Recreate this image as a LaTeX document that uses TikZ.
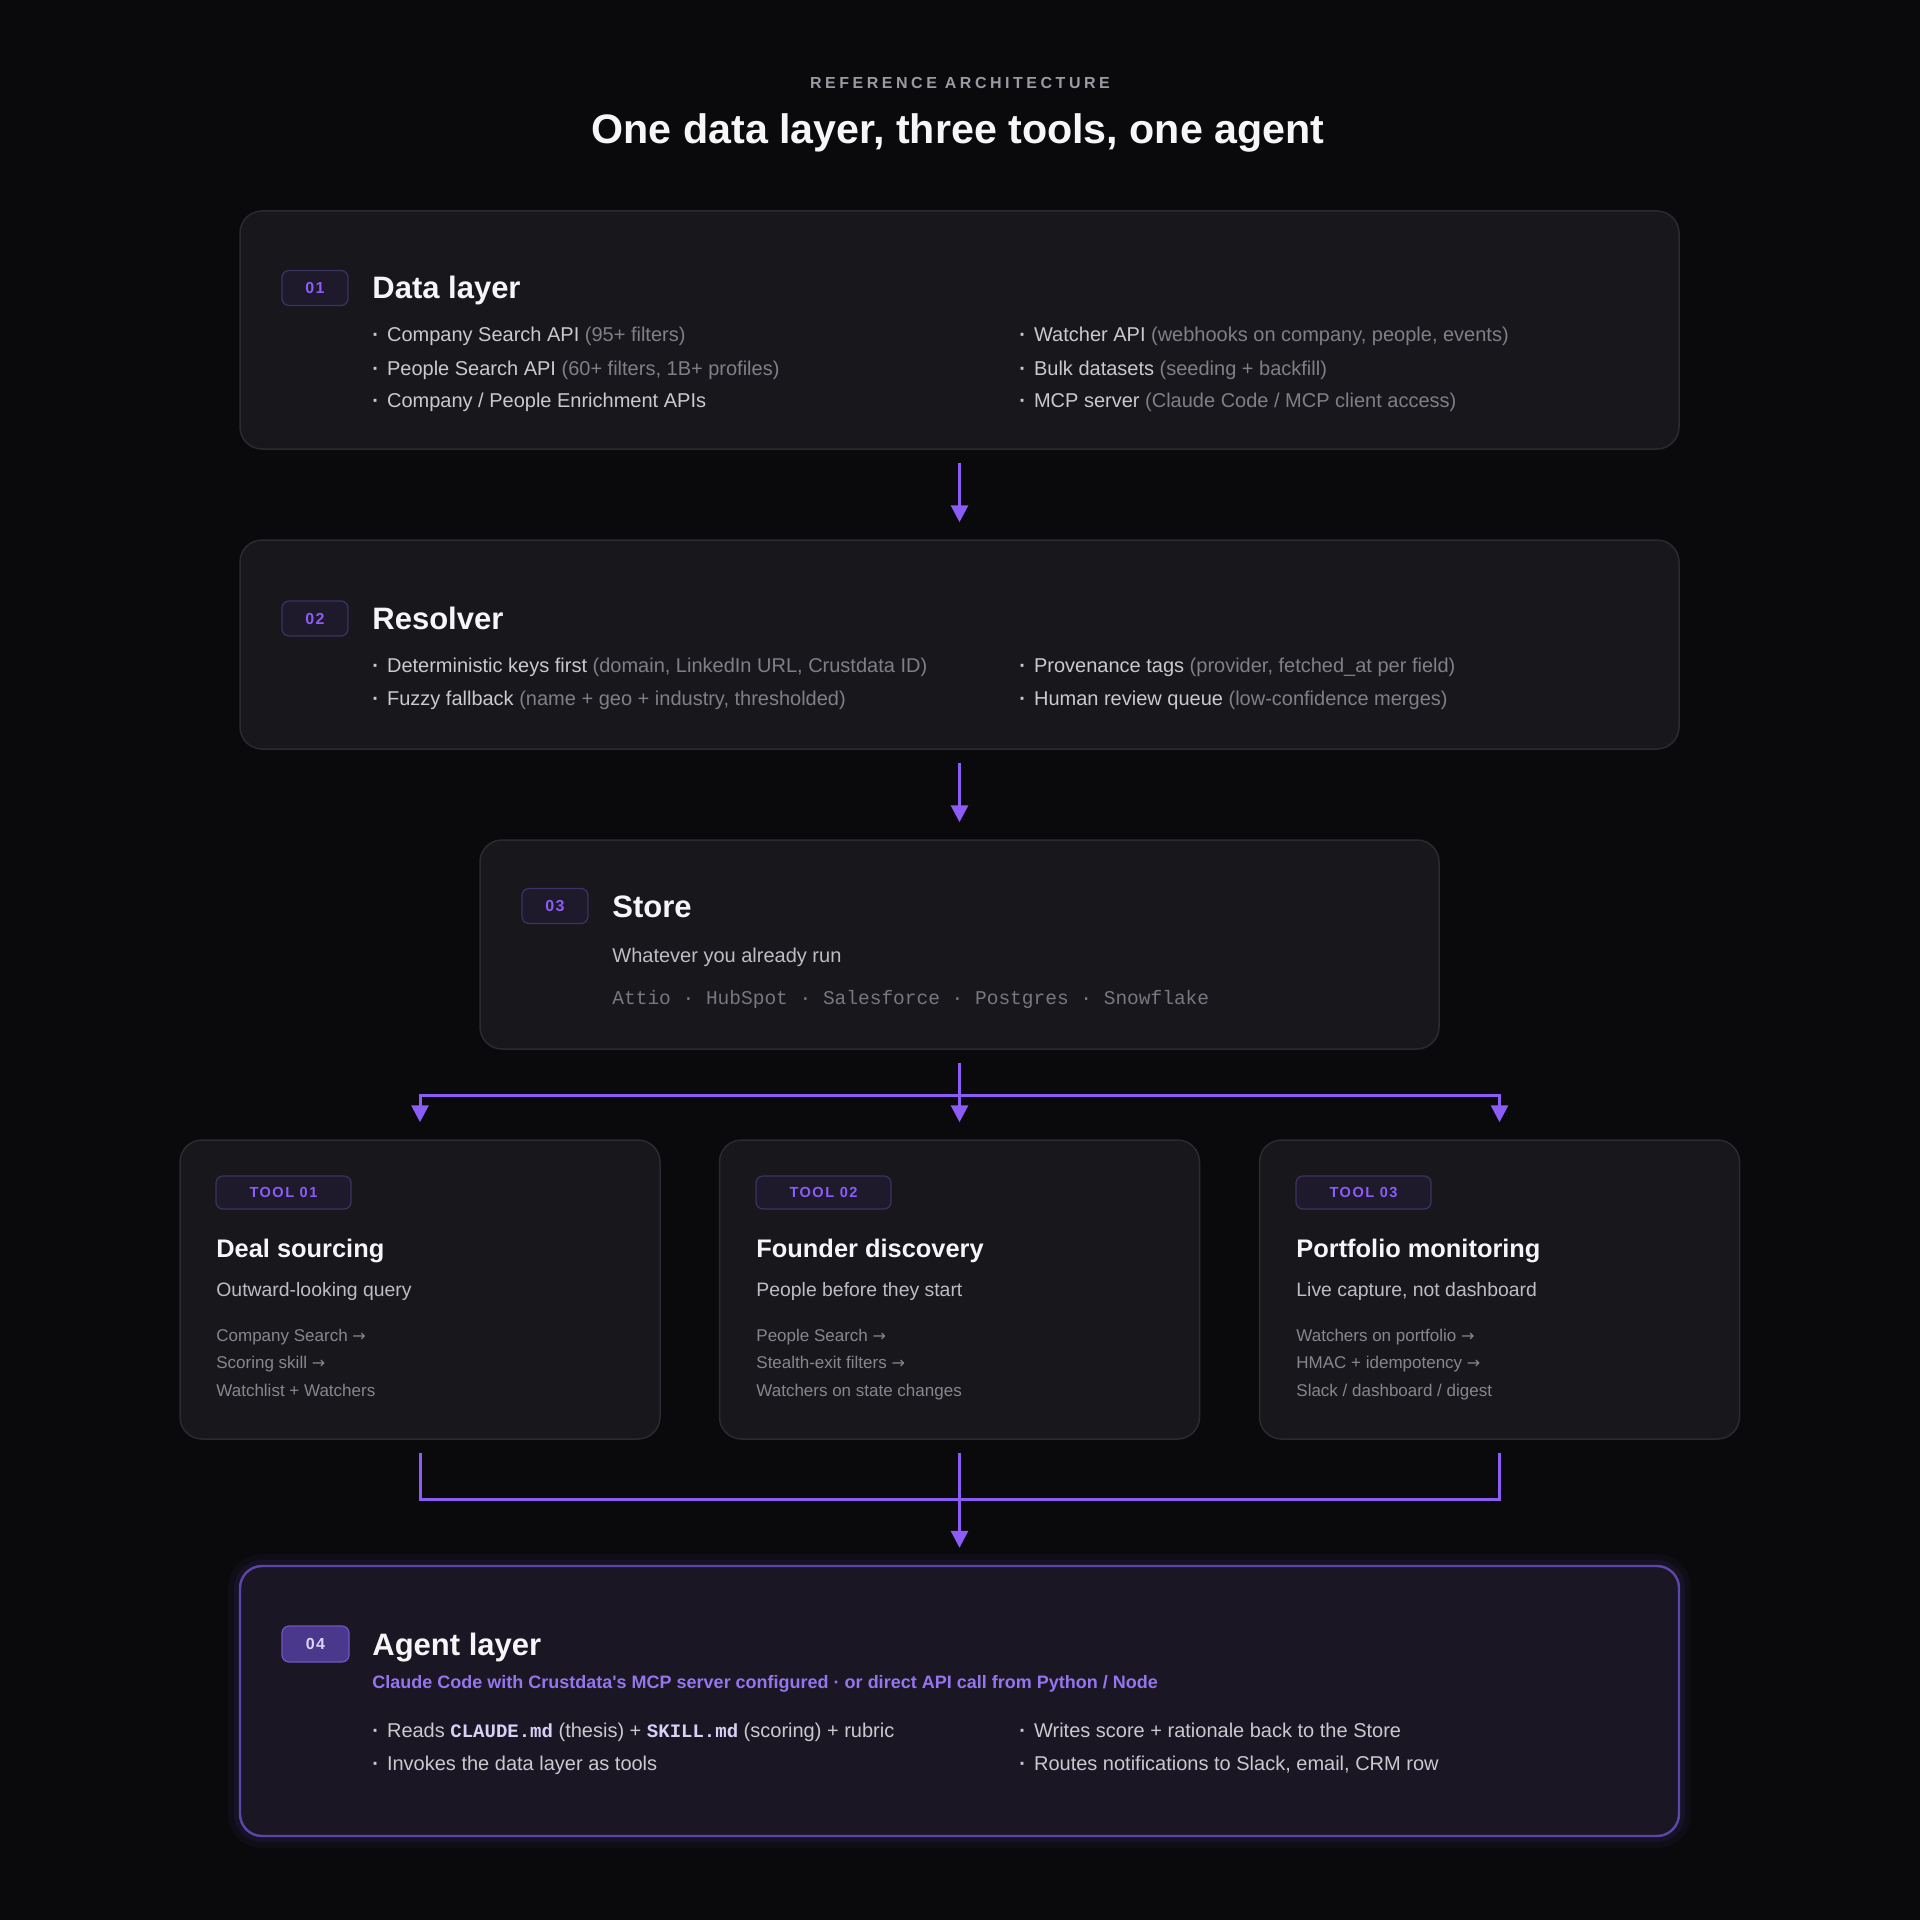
\documentclass[tikz,border=0pt]{standalone}
\usepackage{fontspec}
\setmainfont{Liberation Sans}
\setmonofont{Liberation Mono}
\newfontfamily\arrowfont{DejaVu Sans}
\usetikzlibrary{positioning, arrows.meta}

\definecolor{bgdark}{HTML}{0A0A0D}
\definecolor{panelfill}{HTML}{18181C}
\definecolor{panelline}{HTML}{2A2A30}
\definecolor{agentfill}{HTML}{1B1624}
\definecolor{agentline}{HTML}{5C46AA}
\definecolor{badgefill}{HTML}{1E1A2C}
\definecolor{badgeline}{HTML}{3E3264}
\definecolor{badgedeep}{HTML}{4A388C}
\definecolor{badgerim}{HTML}{6E56C0}
\definecolor{badgepale}{HTML}{DCD4F7}
\definecolor{flowviolet}{HTML}{8B5CF6}
\definecolor{agentnote}{HTML}{9575EE}
\definecolor{kicker}{HTML}{9A9AA2}
\definecolor{titletext}{HTML}{F6F6F8}
\definecolor{maintext}{HTML}{C9C9CE}
\definecolor{asidetext}{HTML}{7F7F88}
\definecolor{subtext}{HTML}{BDBDC4}
\definecolor{listtext}{HTML}{86868F}
\definecolor{storemono}{HTML}{77777F}
\definecolor{codetext}{HTML}{D8D0F5}

\newcommand\kickerfont{\fontsize{8}{10}\selectfont\bfseries\addfontfeature{LetterSpace=22}}
\newcommand\headfont{\fontsize{20.6}{24}\selectfont\bfseries}
\newcommand\secfont{\fontsize{15.5}{18}\selectfont\bfseries}
\newcommand\bodyfont{\fontsize{10}{12}\selectfont}
\newcommand\badgefont{\fontsize{8}{9}\selectfont\bfseries\addfontfeature{LetterSpace=8}}
\newcommand\tagfont{\fontsize{7.3}{9}\selectfont\bfseries\addfontfeature{LetterSpace=10}}
\newcommand\tooltitlefont{\fontsize{12.7}{15}\selectfont\bfseries}
\newcommand\subfont{\fontsize{9.7}{11}\selectfont}
\newcommand\listfont{\fontsize{8.5}{10}\selectfont}
\newcommand\storefont{\ttfamily\fontsize{9.75}{11}\selectfont}
\newcommand\bul{\textbf{·}\hspace{4pt}}
\newcommand\aside[1]{{\color{asidetext}#1}}
\newcommand\code[1]{{\ttfamily\bfseries\fontsize{9.5}{11}\selectfont\color{codetext}#1}}
\newcommand\nextarr{ {\arrowfont\fontsize{8}{9}\selectfont →}}

\tikzset{
  panel/.style={draw=panelline, fill=panelfill, line width=0.75pt, rounded corners=11pt, inner sep=0pt},
  agentpanel/.style={draw=agentline, fill=agentfill, line width=1.2pt, rounded corners=11pt, inner sep=0pt,
    preaction={draw=flowviolet, line width=12pt, opacity=0.04},
    preaction={draw=flowviolet, line width=6pt, opacity=0.07}},
  badge/.style={draw=badgeline, fill=badgefill, line width=0.6pt, rounded corners=3.5pt,
    minimum width=33pt, minimum height=17.5pt, inner sep=0pt, text=flowviolet, font=\badgefont},
  tag/.style={badge, minimum width=67.5pt, minimum height=16.5pt, font=\tagfont},
  flow/.style={draw=flowviolet, line width=1.5pt, -{Triangle[length=8.5pt,width=8.5pt]}},
  wire/.style={draw=flowviolet, line width=1.5pt},
  txt/.style={anchor=base west, inner sep=0pt},
  sectitle/.style={txt, font=\secfont, text=titletext},
  item/.style={txt, font=\bodyfont, text=maintext},
  tooltitle/.style={txt, font=\tooltitlefont, text=titletext},
  toolsub/.style={txt, font=\subfont, text=subtext},
  toolitem/.style={txt, font=\listfont, text=listtext},
}

\begin{document}
\begin{tikzpicture}[x=0.5pt, y=-0.5pt]
\useasboundingbox (0,0) rectangle (1920,1920);
\fill[bgdark] (0,0) rectangle (1920,1920);

% header
\node[anchor=base, inner sep=0pt, text=kicker, font=\kickerfont] (kick) at (960,89) {REFERENCE ARCHITECTURE};
\node[anchor=base, inner sep=0pt, text=titletext, font=\headfont] (head) at (958,144) {One data layer, three tools, one agent};

% 01 data layer
\node[panel, minimum width=719.5pt, minimum height=119pt] (data) at (959.5,330) {};
\node[badge] (b1) at (315,288) {01};
\node[sectitle] at (372,299) {Data layer};
\node[item] at (372,342) {\bul Company Search API \aside{(95+ filters)}};
\node[item] at (372,375) {\bul People Search API \aside{(60+ filters, 1B+ profiles)}};
\node[item] at (372,408) {\bul Company / People Enrichment APIs};
\node[item] at (1019,342) {\bul Watcher API \aside{(webhooks on company, people, events)}};
\node[item] at (1019,375) {\bul Bulk datasets \aside{(seeding + backfill)}};
\node[item] at (1019,408) {\bul MCP server \aside{(Claude Code / MCP client access)}};

% 02 resolver
\node[panel, minimum width=719.5pt, minimum height=104.5pt] (resolver) at (959.5,644.5) {};
\node[badge] (b2) at (315,618.5) {02};
\node[sectitle] at (372,629) {Resolver};
\node[item] at (372,672) {\bul Deterministic keys first \aside{(domain, LinkedIn URL, Crustdata ID)}};
\node[item] at (372,705) {\bul Fuzzy fallback \aside{(name + geo + industry, thresholded)}};
\node[item] at (1019,672) {\bul Provenance tags \aside{(provider, fetched\_at per field)}};
\node[item] at (1019,705) {\bul Human review queue \aside{(low-confidence merges)}};

% 03 store
\node[panel, minimum width=479.5pt, minimum height=104.5pt] (store) at (959.5,944.5) {};
\node[badge] (b3) at (555,906) {03};
\node[sectitle] at (612,917) {Store};
\node[toolsub, font=\bodyfont] at (612,962) {Whatever you already run};
\node[txt, font=\storefont, text=storemono] at (612,1004) {Attio · HubSpot · Salesforce · Postgres · Snowflake};

% tools
\node[panel, minimum width=240pt, minimum height=149.5pt] (deal) at (420,1289.5) {};
\node[tag] at (283.5,1192.5) {TOOL 01};
\node[tooltitle] at (216,1257) {Deal sourcing};
\node[toolsub] at (216,1296) {Outward-looking query};
\node[toolitem] at (216,1341) {Company Search\nextarr};
\node[toolitem] at (216,1368) {Scoring skill\nextarr};
\node[toolitem] at (216,1396) {Watchlist + Watchers};

\node[panel, minimum width=240pt, minimum height=149.5pt] (founder) at (959.5,1289.5) {};
\node[tag] at (823.5,1192.5) {TOOL 02};
\node[tooltitle] at (756,1257) {Founder discovery};
\node[toolsub] at (756,1296) {People before they start};
\node[toolitem] at (756,1341) {People Search\nextarr};
\node[toolitem] at (756,1368) {Stealth-exit filters\nextarr};
\node[toolitem] at (756,1396) {Watchers on state changes};

\node[panel, minimum width=240pt, minimum height=149.5pt] (portfolio) at (1499.5,1289.5) {};
\node[tag] at (1363.5,1192.5) {TOOL 03};
\node[tooltitle] at (1296,1257) {Portfolio monitoring};
\node[toolsub] at (1296,1296) {Live capture, not dashboard};
\node[toolitem] at (1296,1341) {Watchers on portfolio\nextarr};
\node[toolitem] at (1296,1368) {HMAC + idempotency\nextarr};
\node[toolitem] at (1296,1396) {Slack / dashboard / digest};

% 04 agent layer
\node[agentpanel, minimum width=719.5pt, minimum height=135pt] (agent) at (959.5,1701) {};
\node[badge, fill=badgedeep, draw=badgerim, text=badgepale, minimum width=33.5pt, minimum height=18pt] (b4) at (315.5,1644) {04};
\node[sectitle] at (372,1655) {Agent layer};
\node[txt, text=agentnote, font=\fontsize{9}{10}\selectfont\bfseries] at (372,1688) {Claude Code with Crustdata\textquotesingle s MCP server configured · or direct API call from Python / Node};
\node[item] at (372,1737) {\bul Reads \code{CLAUDE.md} (thesis) + \code{SKILL.md} (scoring) + rubric};
\node[item] at (372,1770) {\bul Invokes the data layer as tools};
\node[item] at (1019,1737) {\bul Writes score + rationale back to the Store};
\node[item] at (1019,1770) {\bul Routes notifications to Slack, email, CRM row};

% connectors
\coordinate (split) at (959.5,1095);
\coordinate (merge) at (959.5,1499);
\draw[flow, shorten <=6.5pt, shorten >=8.5pt] (data) -- (resolver);
\draw[flow, shorten <=6.5pt, shorten >=8.5pt] (resolver) -- (store);
\draw[flow, shorten <=6.5pt, shorten >=8.5pt] (store) -- (founder);
\draw[flow, shorten >=8.5pt] (split) -| (deal.north);
\draw[flow, shorten >=8.5pt] (split) -| (portfolio.north);
\draw[wire, shorten <=6.5pt] (deal.south) |- (merge);
\draw[wire, shorten <=6.5pt] (portfolio.south) |- (merge);
\draw[flow, shorten <=6.5pt, shorten >=8.5pt] (founder) -- (agent);
\end{tikzpicture}
\end{document}
